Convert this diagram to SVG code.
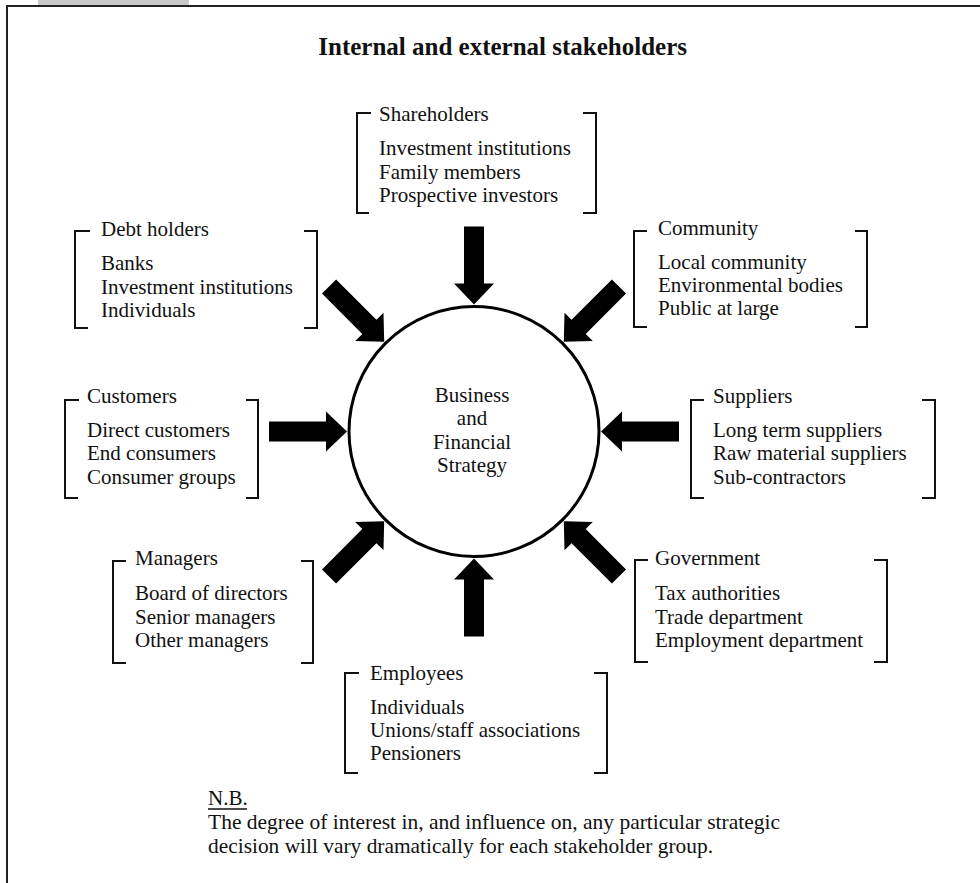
<svg xmlns="http://www.w3.org/2000/svg" xmlns:xlink="http://www.w3.org/1999/xlink" width="980" height="883" viewBox="0 0 980 883">
  <style>
    .t { font-family: "Liberation Serif", "Times New Roman", serif; font-size: 21px; fill: #111; }
    .title { font-family: "Liberation Serif", "Times New Roman", serif; font-size: 25px; font-weight: bold; fill: #111; }
    .br { fill: none; stroke: #111; stroke-width: 2; }
    .arrow { fill: #000; }
  </style>
  <defs>
    <!-- block arrow, tip at origin, pointing along +x -->
    <path id="arrow" d="M0,0 L-21,-20 L-21,-10 L-78,-10 L-78,10 L-21,10 L-21,20 Z"/>
  </defs>

  <rect width="980" height="883" fill="#fff"/>
  <!-- page frame -->
  <rect x="38" y="0" width="151" height="5" fill="#c8c8c8"/>
  <path d="M980,6 L7,6 L7,883" fill="none" stroke="#222" stroke-width="2"/>

  <text class="title" x="687" y="55" text-anchor="end">Internal and external stakeholders</text>

  <!-- central strategy node -->
  <g id="strategy">
    <circle cx="474" cy="431.5" r="125" fill="none" stroke="#000" stroke-width="3"/>
    <text class="t" x="472" y="401.5" text-anchor="middle">Business</text>
    <text class="t" x="472" y="425" text-anchor="middle">and</text>
    <text class="t" x="472" y="448.5" text-anchor="middle">Financial</text>
    <text class="t" x="472" y="472" text-anchor="middle">Strategy</text>
  </g>

  <!-- connectors -->
  <g id="connectors" class="arrow">
    <use xlink:href="#arrow" transform="translate(474,304.5) rotate(90)"/>
    <use xlink:href="#arrow" transform="translate(474,558.5) rotate(-90)"/>
    <use xlink:href="#arrow" transform="translate(347,431.5)"/>
    <use xlink:href="#arrow" transform="translate(601,431.5) rotate(180)"/>
    <use xlink:href="#arrow" transform="translate(384.2,341.7) rotate(45)"/>
    <use xlink:href="#arrow" transform="translate(563.8,341.7) rotate(135)"/>
    <use xlink:href="#arrow" transform="translate(384.2,521.3) rotate(-45)"/>
    <use xlink:href="#arrow" transform="translate(563.8,521.3) rotate(-135)"/>
  </g>

  <g id="shareholders">
    <path class="br" d="M371,113 H357 V213 H369 M583,113 H596 V213 H583"/>
    <text class="t" x="379" y="120.5">Shareholders</text>
    <text class="t" x="379" y="155">Investment institutions</text>
    <text class="t" x="379" y="178.5">Family members</text>
    <text class="t" x="379" y="202">Prospective investors</text>
  </g>

  <g id="debt-holders">
    <path class="br" d="M90,231 H75 V328 H88 M304,231 H317 V328 H304"/>
    <text class="t" x="101" y="236">Debt holders</text>
    <text class="t" x="101" y="270">Banks</text>
    <text class="t" x="101" y="293.5">Investment institutions</text>
    <text class="t" x="101" y="317">Individuals</text>
  </g>

  <g id="community">
    <path class="br" d="M647,231 H634 V327 H647 M855,231 H867 V327 H855"/>
    <text class="t" x="658" y="235">Community</text>
    <text class="t" x="658" y="268.5">Local community</text>
    <text class="t" x="658" y="292">Environmental bodies</text>
    <text class="t" x="658" y="315">Public at large</text>
  </g>

  <g id="customers">
    <path class="br" d="M79,400 H65 V498 H78 M246,400 H258 V498 H246"/>
    <text class="t" x="87" y="402.5">Customers</text>
    <text class="t" x="87" y="436.5">Direct customers</text>
    <text class="t" x="87" y="460">End consumers</text>
    <text class="t" x="87" y="483.5">Consumer groups</text>
  </g>

  <g id="suppliers">
    <path class="br" d="M704,400 H691 V498 H704 M922,400 H935 V498 H922"/>
    <text class="t" x="713" y="402.5">Suppliers</text>
    <text class="t" x="713" y="436.5">Long term suppliers</text>
    <text class="t" x="713" y="460">Raw material suppliers</text>
    <text class="t" x="713" y="483.5">Sub-contractors</text>
  </g>

  <g id="managers">
    <path class="br" d="M126,561 H113 V663 H126 M301,561 H313 V663 H301"/>
    <text class="t" x="135" y="565">Managers</text>
    <text class="t" x="135" y="600">Board of directors</text>
    <text class="t" x="135" y="623.5">Senior managers</text>
    <text class="t" x="135" y="647">Other managers</text>
  </g>

  <g id="government">
    <path class="br" d="M648,560 H635 V662 H648 M874,560 H887 V662 H874"/>
    <text class="t" x="655" y="565">Government</text>
    <text class="t" x="655" y="600">Tax authorities</text>
    <text class="t" x="655" y="623.5">Trade department</text>
    <text class="t" x="655" y="647">Employment department</text>
  </g>

  <g id="employees">
    <path class="br" d="M359,673 H345 V773 H358 M594,673 H607 V773 H594"/>
    <text class="t" x="370" y="679.5">Employees</text>
    <text class="t" x="370" y="713.5">Individuals</text>
    <text class="t" x="370" y="737">Unions/staff associations</text>
    <text class="t" x="370" y="760">Pensioners</text>
  </g>

  <!-- footnote -->
  <g id="note">
    <text class="t" x="208" y="805">N.B.</text>
    <line x1="208" y1="809" x2="247" y2="809" stroke="#111" stroke-width="1.5"/>
    <text class="t" x="208" y="829" textLength="572" lengthAdjust="spacingAndGlyphs">The degree of interest in, and influence on, any particular strategic</text>
    <text class="t" x="208" y="853" textLength="505" lengthAdjust="spacingAndGlyphs">decision will vary dramatically for each stakeholder group.</text>
  </g>
</svg>
